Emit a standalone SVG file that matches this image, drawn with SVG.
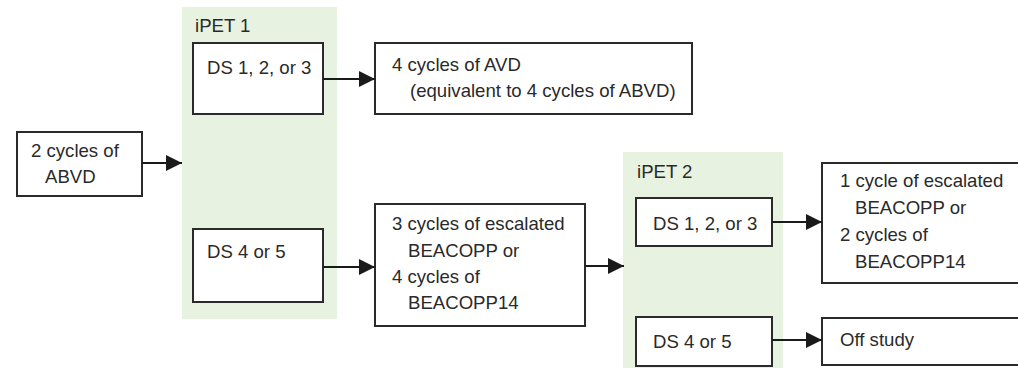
<svg xmlns="http://www.w3.org/2000/svg" width="1018" height="374" viewBox="0 0 1018 374">
<style>
.panel{fill:#e8f2e0;stroke:none}
.box{fill:#fff;stroke:#2a2a2a;stroke-width:2}
text{font-family:"Liberation Sans",Arial,sans-serif;font-size:18.6px;fill:#2a2a2a}
.conn line{stroke:#1a1a1a;stroke-width:2;marker-end:url(#ah)}
</style>
<defs>
<marker id="ah" markerUnits="userSpaceOnUse" markerWidth="16" markerHeight="16" refX="16" refY="8" orient="auto">
<path d="M0,0 L16,8 L0,16 Z" fill="#1a1a1a"/>
</marker>
</defs>
<g id="ipet1">
<rect class="panel" x="182" y="7" width="155" height="312"/>
<text x="195" y="32">iPET 1</text>
</g>
<g id="ipet2">
<rect class="panel" x="623" y="152" width="160" height="216"/>
<text x="637" y="178">iPET 2</text>
</g>
<g id="abvd">
<rect class="box" x="17" y="132" width="125" height="64"/>
<text x="31" y="157">2 cycles of</text>
<text x="45" y="183">ABVD</text>
</g>
<g id="ds123a">
<rect class="box" x="193" y="43" width="130" height="71"/>
<text x="207" y="74">DS 1, 2, or 3</text>
</g>
<g id="ds45a">
<rect class="box" x="193" y="229" width="130" height="73"/>
<text x="207" y="258">DS 4 or 5</text>
</g>
<g id="avd">
<rect class="box" x="375" y="43" width="317" height="71"/>
<text x="392" y="71">4 cycles of AVD</text>
<text x="410" y="97">(equivalent to 4 cycles of ABVD)</text>
</g>
<g id="beacopp">
<rect class="box" x="375" y="204" width="210" height="122"/>
<text x="392" y="230">3 cycles of escalated</text>
<text x="408" y="257">BEACOPP or</text>
<text x="392" y="283">4 cycles of</text>
<text x="408" y="309">BEACOPP14</text>
</g>
<g id="ds123b">
<rect class="box" x="636" y="198" width="136" height="48"/>
<text x="653" y="230">DS 1, 2, or 3</text>
</g>
<g id="ds45b">
<rect class="box" x="636" y="317" width="136" height="49"/>
<text x="653" y="348">DS 4 or 5</text>
</g>
<g id="final">
<rect class="box" x="822" y="163" width="200" height="120"/>
<text x="840" y="187">1 cycle of escalated</text>
<text x="855" y="214">BEACOPP or</text>
<text x="840" y="241">2 cycles of</text>
<text x="855" y="268">BEACOPP14</text>
</g>
<g id="offstudy">
<rect class="box" x="822" y="318" width="200" height="47"/>
<text x="840" y="346">Off study</text>
</g>
<g class="conn" id="connectors">
<line x1="142" y1="163" x2="182" y2="163"/>
<line x1="323" y1="79" x2="375" y2="79"/>
<line x1="323" y1="267" x2="375" y2="267"/>
<line x1="585" y1="266" x2="624" y2="266"/>
<line x1="772" y1="222" x2="822" y2="222"/>
<line x1="772" y1="340" x2="822" y2="340"/>
</g>
</svg>
